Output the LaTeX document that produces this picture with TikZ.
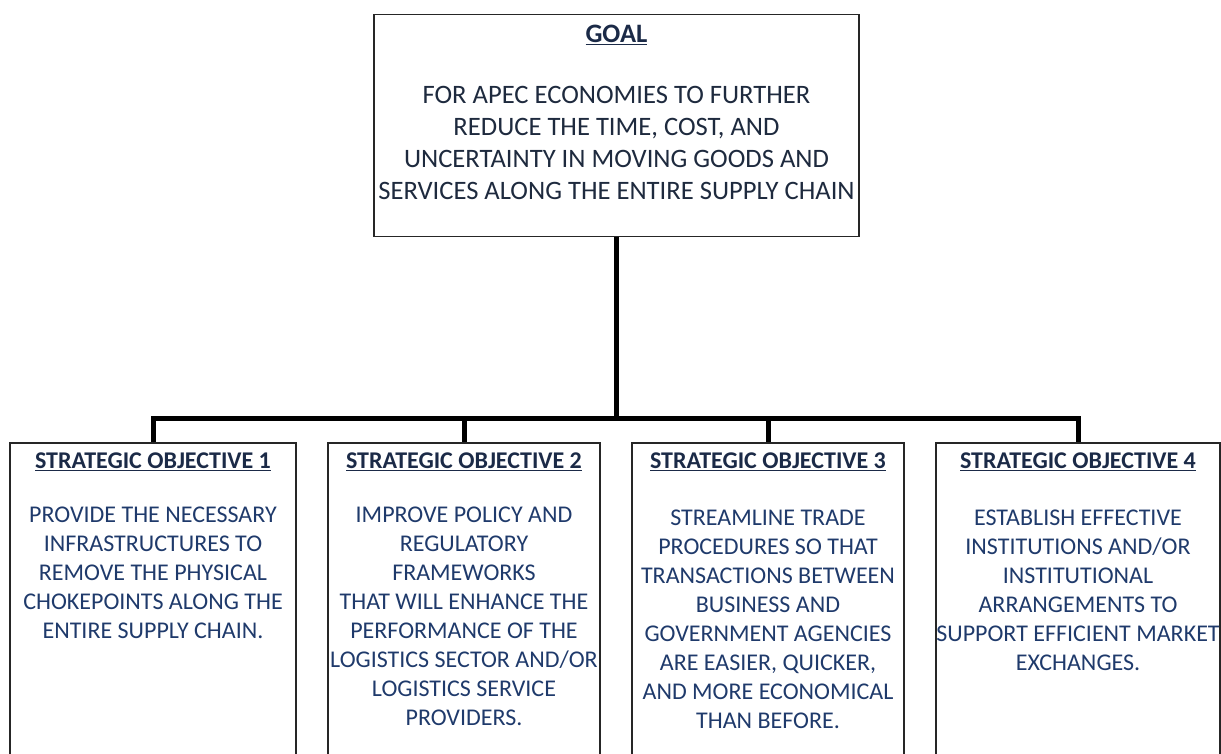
\documentclass[tikz,border=0pt]{standalone}
\usepackage{fontspec}
\setmainfont{Carlito}
\usetikzlibrary{positioning}

\definecolor{navy}{HTML}{1B2A47}
\definecolor{objblue}{HTML}{1F3A6B}
\definecolor{goaltext}{HTML}{1E2A3E}

\tikzset{
  box/.style={draw=black!85, line width=1.5pt, rectangle, inner sep=0pt},
  heading/.style={font=\fontsize{24}{29}\selectfont\bfseries, text=navy, inner sep=0pt, anchor=north},
  objtext/.style={font=\fontsize{24}{29}\selectfont, text=objblue, align=center, inner sep=0pt, anchor=north},
  link/.style={line width=5pt, black},
}

\begin{document}
\begin{tikzpicture}[x=1pt, y=1pt]
 \useasboundingbox (0,0) rectangle (1221,-754);
 \clip (0,0) rectangle (1221,-754);

    % Goal
 \node[box, minimum width=485pt, minimum height=222pt, anchor=north] (goal) at (616.5,-14) {};
 \node[heading, font=\fontsize{26.6}{32}\selectfont\bfseries, below=10.5pt of goal.north] (gtitle) {\underline{GOAL}};
 \node[objtext, font=\fontsize{26.6}{32}\selectfont, text=goaltext, below=72pt of goal.north] (gbody)
    {FOR APEC ECONOMIES TO FURTHER\\REDUCE THE TIME, COST, AND\\UNCERTAINTY IN MOVING GOODS AND\\SERVICES ALONG THE ENTIRE SUPPLY CHAIN};

    % Strategic objectives
 \foreach \i/\cx/\w in {1/153/286, 2/464/272, 3/768/272, 4/1078/284}{
    \node[box, minimum width=\w pt, minimum height=340pt, anchor=north] (so\i) at (\cx,-442) {};
    \node[heading, below=11pt of so\i.north] (t\i) {\underline{STRATEGIC OBJECTIVE \i}};
 }
 \node[objtext, below=65pt of so1.north] (b1)
    {PROVIDE THE NECESSARY\\INFRASTRUCTURES TO\\REMOVE THE PHYSICAL\\CHOKEPOINTS ALONG THE\\ENTIRE SUPPLY CHAIN.};
 \node[objtext, below=65pt of so2.north] (b2)
    {IMPROVE POLICY AND\\REGULATORY\\FRAMEWORKS\\THAT WILL ENHANCE THE\\PERFORMANCE OF THE\\LOGISTICS SECTOR AND/OR\\LOGISTICS SERVICE\\PROVIDERS.};
 \node[objtext, below=68pt of so3.north] (b3)
    {STREAMLINE TRADE\\PROCEDURES SO THAT\\TRANSACTIONS BETWEEN\\BUSINESS AND\\GOVERNMENT AGENCIES\\ARE EASIER, QUICKER,\\AND MORE ECONOMICAL\\THAN BEFORE.};
 \node[objtext, below=68pt of so4.north] (b4)
    {ESTABLISH EFFECTIVE\\INSTITUTIONS AND/OR\\INSTITUTIONAL\\ARRANGEMENTS TO\\SUPPORT EFFICIENT MARKET\\EXCHANGES.};

    % Connectors
 \coordinate (bus) at (616.5,-418);
 \draw[link] (goal.south) -- (bus);
 \draw[link] (so1.north) |- (bus) -| (so4.north);
 \foreach \i in {2,3}
    \draw[link] (so\i.north) -- (so\i.north |- bus);
\end{tikzpicture}
\end{document}
